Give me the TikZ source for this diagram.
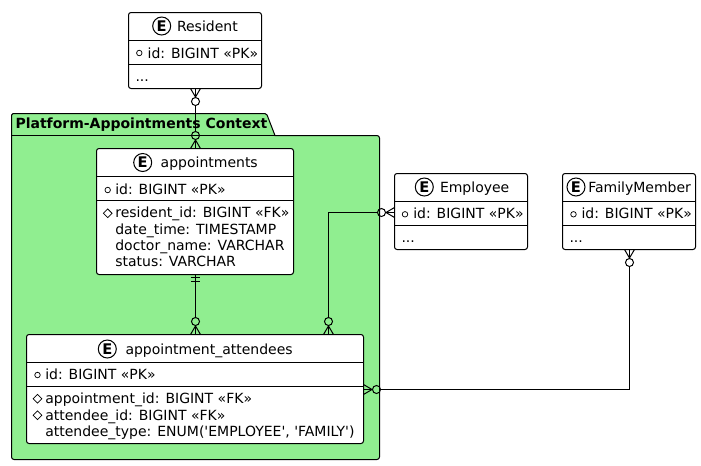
\documentclass[tikz,border=0pt]{standalone}
\usepackage{fontspec}
\setmainfont{DejaVu Sans}
\newfontfamily\quotefont{DejaVu Sans}[Ligatures=NoCommon]
\newcommand{\sq}{{\quotefont\char39 }}
\usetikzlibrary{shapes.geometric,calc}
\definecolor{pkggreen}{HTML}{90EE90}
\newcommand{\px}{0.75pt}
\tikzset{
  every node/.style={font=\fontsize{10.5pt}{12pt}\selectfont,text=black},
  line/.style={draw=black,line width=0.75pt},
  entbox/.style={line,fill=white,rounded corners=1.9pt,inner sep=0pt,outer sep=0pt,anchor=north west},
  txt/.style={anchor=base west,inner sep=0pt,outer sep=0pt},
  badge/.style={circle,draw=black,line width=0.75pt,fill=white,inner sep=0pt,minimum size=18*\px,font=\fontsize{11pt}{12pt}\selectfont\bfseries},
  pk/.style={circle,draw=black,line width=0.55pt,inner sep=0pt,minimum size=5.5*\px},
  fk/.style={diamond,draw=black,line width=0.55pt,inner sep=0pt,minimum size=9*\px},
  crowzero/.pic={
    \draw[line] (0,-5) -- (8.5,0) -- (0,5);
    \draw[line] (0,0) -- (9,0);
    \draw[line] (13,0) circle[radius=4];
  },
}
\begin{document}
\begin{tikzpicture}[x=0.75pt,y=-0.75pt]
\useasboundingbox (0,0) rectangle (701,465);
% package
\draw[line,fill=pkggreen,rounded corners=1.2pt] (11.5,135.5) -- (11.5,113.5) -- (266.5,113.5) [sharp corners] -- (275,135.5) [rounded corners=1.9pt] -- (379.5,135.5) -- (379.5,459.5) -- (11.5,459.5) -- cycle;
\draw[line] (11.5,135.5) -- (275,135.5);
\node[txt,font=\fontsize{10.5pt}{12pt}\selectfont\bfseries] (pkgtitle) at (15.5,128.5) {Platform-Appointments Context};
% Resident
\node[entbox,minimum width=133*\px,minimum height=76*\px] (res) at (128.5,12.5) {};
\draw[line] (res.west |- 0,40.5) -- (res.east |- 0,40.5);
\draw[line] (res.west |- 0,64.5) -- (res.east |- 0,64.5);
\node[badge] (resE) at (161.7,26) {E};
\node[txt] (resT) at (177,31) {Resident};
\node[pk] (resM) at (139.3,53) {};
\node[txt] (resId) at (147.7,58) {id: BIGINT «PK»};
\node[txt] (resD) at (135.5,81.5) {...};
% appointments
\node[entbox,minimum width=197*\px,minimum height=126*\px] (app) at (96.5,148.5) {};
\draw[line] (app.west |- 0,176.5) -- (app.east |- 0,176.5);
\draw[line] (app.west |- 0,200.5) -- (app.east |- 0,200.5);
\node[badge] (appE) at (142.7,162.5) {E};
\node[txt] (appT) at (160.7,167.5) {appointments};
\node[pk] (appM) at (107.7,190) {};
\node[txt] (appId) at (115.3,194) {id: BIGINT «PK»};
\node[fk] (appF) at (107.7,213.3) {};
\node[txt] (appR) at (115.3,217.8) {resident\_id: BIGINT «FK»};
\node[txt] (appDt) at (115.3,234.3) {date\_time: TIMESTAMP};
\node[txt] (appDn) at (115.3,250.5) {doctor\_name: VARCHAR};
\node[txt] (appSt) at (115.3,266.8) {status: VARCHAR};
% Employee
\node[entbox,minimum width=133*\px,minimum height=76*\px] (emp) at (394.5,173.5) {};
\draw[line] (emp.west |- 0,201.5) -- (emp.east |- 0,201.5);
\draw[line] (emp.west |- 0,225.5) -- (emp.east |- 0,225.5);
\node[badge] (empE) at (424.3,187) {E};
\node[txt] (empT) at (440,192) {Employee};
\node[pk] (empM) at (405,214.3) {};
\node[txt] (empId) at (413.3,218.5) {id: BIGINT «PK»};
\node[txt] (empD) at (401.5,242) {...};
% FamilyMember
\node[entbox,minimum width=133*\px,minimum height=76*\px] (fam) at (562.5,173.5) {};
\draw[line] (fam.west |- 0,201.5) -- (fam.east |- 0,201.5);
\draw[line] (fam.west |- 0,225.5) -- (fam.east |- 0,225.5);
\node[badge] (famE) at (576,187) {E};
\node[txt] (famT) at (588.3,192) {FamilyMember};
\node[pk] (famM) at (573.5,214.3) {};
\node[txt] (famId) at (581.5,218.5) {id: BIGINT «PK»};
\node[txt] (famD) at (569.5,242) {...};
% attendees
\node[entbox,minimum width=337*\px,minimum height=109*\px] (att) at (26.5,334.5) {};
\draw[line] (att.west |- 0,362.5) -- (att.east |- 0,362.5);
\draw[line] (att.west |- 0,386.5) -- (att.east |- 0,386.5);
\node[badge] (attE) at (107.3,349) {E};
\node[txt] (attT) at (125.5,354) {appointment\_attendees};
\node[pk] (attM) at (37.5,375) {};
\node[txt] (attId) at (45.3,379.5) {id: BIGINT «PK»};
\node[fk] (attF1) at (37.5,398.7) {};
\node[txt] (attA) at (45.3,403.5) {appointment\_id: BIGINT «FK»};
\node[fk] (attF2) at (37.5,415.3) {};
\node[txt] (attB) at (45.3,420) {attendee\_id: BIGINT «FK»};
\node[txt] (attC) at (45.3,436.5) {attendee\_type: ENUM(\sq EMPLOYEE\sq, \sq FAMILY\sq)};
% connector anchors
\coordinate (resfoot) at ($(res.south)+(0.5,0)$);
\coordinate (apphead) at ($(app.north)+(0.5,0)$);
\coordinate (appfoot) at ($(app.south)+(0.5,0)$);
\coordinate (attL) at (att.north -| appfoot);
\coordinate (attR) at ($(att.north east)+(-35,0)$);
\coordinate (attSide) at (att.east |- 0,389.5);
\coordinate (empW) at (emp.west |- 0,212.5);
\coordinate (famS) at ($(fam.south)+(0.5,0)$);
% Resident -- appointments
\pic[rotate=-90] at (resfoot) {crowzero};
\pic[rotate=90] at (apphead) {crowzero};
\draw[line] ($(resfoot)+(0,17)$) -- ($(apphead)+(0,-17)$);
% appointments -- attendees
\draw[line] ($(appfoot)+(-4.5,2.5)$) -- ($(appfoot)+(4.5,2.5)$);
\draw[line] ($(appfoot)+(-4.5,7)$) -- ($(appfoot)+(4.5,7)$);
\pic[rotate=90] at (attL) {crowzero};
\draw[line] (appfoot) -- ($(attL)+(0,-17)$);
% Employee -- attendees
\pic[rotate=180] at (empW) {crowzero};
\pic[rotate=90] at (attR) {crowzero};
\draw[line] ($(empW)+(-17,0)$) -- (attR |- empW) -- ($(attR)+(0,-17)$);
% FamilyMember -- attendees
\pic[rotate=-90] at (famS) {crowzero};
\pic[rotate=0] at (attSide) {crowzero};
\draw[line] ($(famS)+(0,17)$) -- (famS |- attSide) -- ($(attSide)+(17,0)$);
\end{tikzpicture}
\end{document}
